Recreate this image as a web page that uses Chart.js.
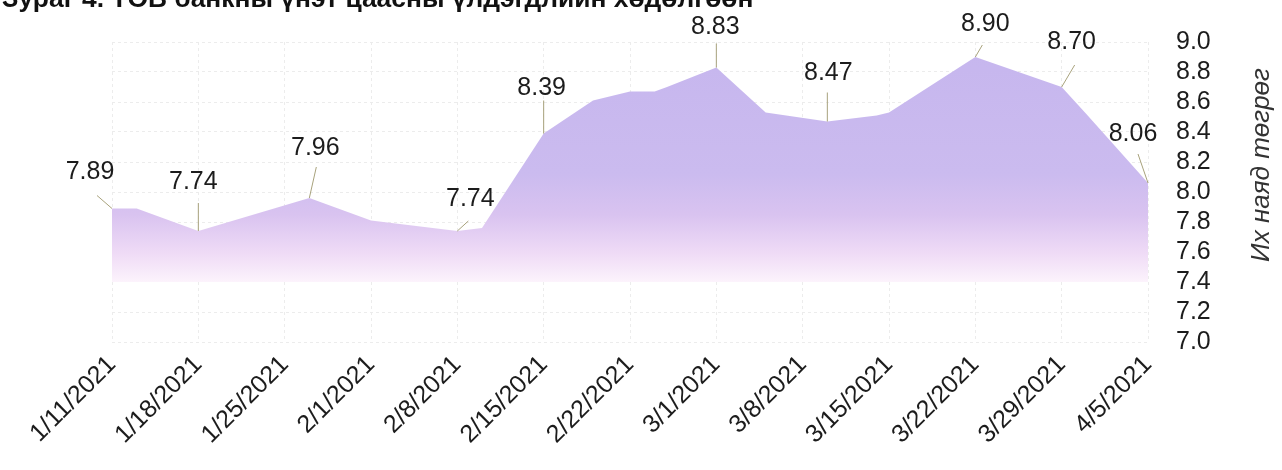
<!DOCTYPE html>
<html>
<head>
<meta charset="utf-8">
<script src="https://cdn.jsdelivr.net/npm/chart.js@4.4.1/dist/chart.umd.min.js"></script>
<style>
  html, body { margin: 0; padding: 0; background: #fff; }
  #wrap { width: 1282px; height: 470px; }
</style>
</head>
<body>
<div id="wrap"><canvas id="chart" width="1282" height="470"></canvas></div>
<script>
// outline vertices of the area
const dates = [
  '2021-01-11', '2021-01-13', '2021-01-18', '2021-01-27', '2021-02-01',
  '2021-02-08', '2021-02-10', '2021-02-15', '2021-02-19', '2021-02-22',
  '2021-02-24', '2021-02-25', '2021-03-01', '2021-03-05', '2021-03-10',
  '2021-03-14', '2021-03-15', '2021-03-22', '2021-03-29', '2021-03-31',
  '2021-04-05'
];
const values = [
  7.89, 7.89, 7.74, 7.96, 7.81,
  7.74, 7.76, 8.39, 8.61, 8.67,
  8.67, 8.70, 8.83, 8.53, 8.47,
  8.51, 8.53, 8.90, 8.70, 8.52,
  8.06
];
// points that carry a value label
const labelledDates = [
  '2021-01-11', '2021-01-18', '2021-01-27', '2021-02-08', '2021-02-15',
  '2021-03-01', '2021-03-10', '2021-03-22', '2021-03-29', '2021-04-05'
];
const tickLabels = [
  '1/11/2021', '1/18/2021', '1/25/2021', '2/1/2021', '2/8/2021', '2/15/2021',
  '2/22/2021', '3/1/2021', '3/8/2021', '3/15/2021', '3/22/2021', '3/29/2021', '4/5/2021'
];
const titleText = 'Зураг 4. ТӨВ банкны үнэт цаасны үлдэгдлийн хөдөлгөөн';
const axisTitle = 'Их наяд төгрөг';

// label placement: [text dx, text dy, leader dx, leader dy] relative to the point
const calloutOffsets = [
  [-22, -36, -15, -13],
  [-5, -49, 0, -28],
  [6, -50, 7, -31],
  [13, -32, 11, -10],
  [-2, -45, 0, -33],
  [-1, -40, 0, -24],
  [1, -48, 0, -29],
  [10, -33, 7, -12],
  [10, -45, 13, -22],
  [-15, -49, -10, -29]
];

const start = Date.UTC(2021, 0, 11);
const dayOf = d => (Date.parse(d + 'T00:00:00Z') - start) / 86400000;
const points = dates.map((d, i) => ({ x: dayOf(d), y: values[i] }));

const FONT = '"Liberation Sans", Arial, sans-serif';

const calloutPlugin = {
  id: 'callouts',
  afterDatasetsDraw(chart) {
    const ctx = chart.ctx;
    const meta = chart.getDatasetMeta(0);
    ctx.save();
    labelledDates.forEach((d, i) => {
      const idx = dates.indexOf(d);
      const pt = meta.data[idx];
      const [tx, ty, lx, ly] = calloutOffsets[i];
      ctx.strokeStyle = '#a8a27c';
      ctx.lineWidth = 1;
      ctx.beginPath();
      ctx.moveTo(pt.x, pt.y);
      ctx.lineTo(pt.x + lx, pt.y + ly);
      ctx.stroke();
      ctx.fillStyle = '#1c1c1c';
      ctx.font = '25px ' + FONT;
      ctx.textAlign = 'center';
      ctx.textBaseline = 'middle';
      ctx.fillText(values[idx].toFixed(2), pt.x + tx, pt.y + ty);
    });
    ctx.restore();
  }
};

const extrasPlugin = {
  id: 'extras',
  afterDraw(chart) {
    const ctx = chart.ctx;
    ctx.save();
    // title, cut off at the top edge like the scan
    ctx.fillStyle = '#111';
    ctx.font = 'bold 22px ' + FONT;
    const w = ctx.measureText(titleText).width;
    const size = 22 * 752 / w;
    ctx.font = 'bold ' + size.toFixed(1) + 'px ' + FONT;
    ctx.textAlign = 'left';
    ctx.textBaseline = 'alphabetic';
    ctx.fillText(titleText, 2, 7);
    // right axis title, reading bottom to top
    ctx.translate(1262, 165);
    ctx.rotate(-Math.PI / 2);
    ctx.fillStyle = '#333';
    ctx.font = 'italic 26px ' + FONT;
    ctx.textAlign = 'center';
    ctx.textBaseline = 'middle';
    ctx.fillText(axisTitle, 0, 0);
    ctx.restore();
  }
};

const ctx = document.getElementById('chart').getContext('2d');
new Chart(ctx, {
  type: 'line',
  data: {
    datasets: [{
      data: points,
      borderWidth: 0,
      pointRadius: 0,
      tension: 0,
      fill: { value: 7.4 },
      backgroundColor: (context) => {
        const chart = context.chart;
        const area = chart.chartArea;
        if (!area) return '#cbbcef';
        const y = chart.scales.y;
        const g = chart.ctx.createLinearGradient(0, y.getPixelForValue(9.0), 0, y.getPixelForValue(7.4));
        g.addColorStop(0, '#c6b6ee');
        g.addColorStop(0.55, '#cbbbef');
        g.addColorStop(0.72, '#d9c3f0');
        g.addColorStop(0.88, '#efdbf6');
        g.addColorStop(1, '#fcf3fc');
        return g;
      }
    }]
  },
  options: {
    responsive: false,
    animation: false,
    layout: { padding: { left: 112, top: 42, right: 0, bottom: 0 } },
    plugins: {
      legend: { display: false },
      tooltip: { enabled: false }
    },
    scales: {
      x: {
        type: 'linear',
        min: 0,
        max: 84,
        grid: { color: '#ececec', drawTicks: false },
        border: { display: false, dash: [3, 3] },
        ticks: {
          stepSize: 7,
          autoSkip: false,
          minRotation: 45,
          maxRotation: 45,
          padding: 8,
          color: '#1c1c1c',
          font: { family: FONT, size: 25 },
          callback: (v) => tickLabels[Math.round(v / 7)]
        },
        afterFit: (scale) => {
          scale.height = 128;
          scale.paddingLeft = 0;
          scale.paddingRight = 0;
        }
      },
      y: {
        position: 'right',
        min: 7.0,
        max: 9.0,
        grid: { color: '#ececec', drawTicks: false },
        border: { display: false, dash: [3, 3] },
        ticks: {
          stepSize: 0.2,
          autoSkip: false,
          padding: 28,
          color: '#1c1c1c',
          font: { family: FONT, size: 25, lineHeight: 1 },
          callback: (v) => Number(v).toFixed(1)
        },
        afterFit: (scale) => {
          scale.width = 134;
          scale.paddingTop = 0;
          scale.paddingBottom = 0;
        }
      }
    }
  },
  plugins: [calloutPlugin, extrasPlugin]
});
</script>
</body>
</html>
